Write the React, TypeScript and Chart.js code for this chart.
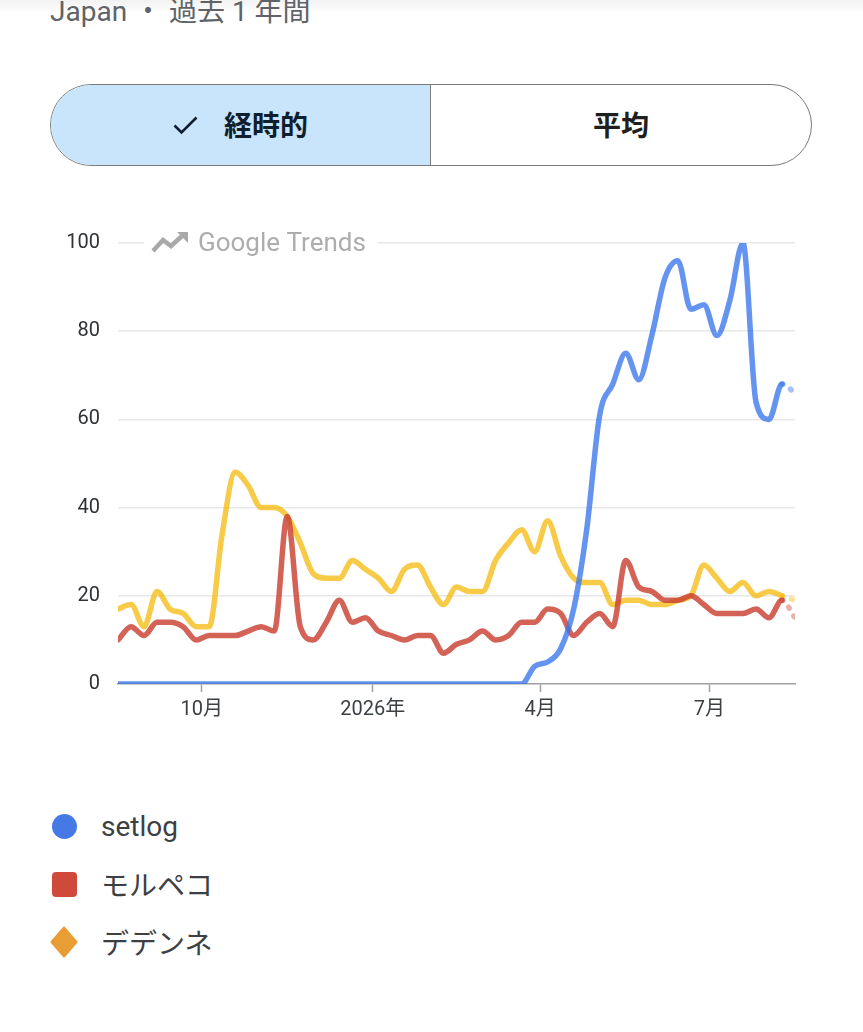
import React, { useEffect, useRef } from "react";
import { Chart, registerables } from "chart.js";

Chart.register(...registerables);

// ---- data ----
const weekStarts = [
  "2025-08-17", "2025-08-24", "2025-08-31", "2025-09-07", "2025-09-14", "2025-09-21", "2025-09-28",
  "2025-10-05", "2025-10-12", "2025-10-19", "2025-10-26", "2025-11-02", "2025-11-09", "2025-11-16",
  "2025-11-23", "2025-11-30", "2025-12-07", "2025-12-14", "2025-12-21", "2025-12-28", "2026-01-04",
  "2026-01-11", "2026-01-18", "2026-01-25", "2026-02-01", "2026-02-08", "2026-02-15", "2026-02-22",
  "2026-03-01", "2026-03-08", "2026-03-15", "2026-03-22", "2026-03-29", "2026-04-05", "2026-04-12",
  "2026-04-19", "2026-04-26", "2026-05-03", "2026-05-10", "2026-05-17", "2026-05-24", "2026-05-31",
  "2026-06-07", "2026-06-14", "2026-06-21", "2026-06-28", "2026-07-05", "2026-07-12", "2026-07-19",
  "2026-07-26", "2026-08-02", "2026-08-09", "2026-08-16",
];

const setlogValues = [
  0, 0, 0, 0, 0, 0, 0, 0, 0, 0,
  0, 0, 0, 0, 0, 0, 0, 0, 0, 0,
  0, 0, 0, 0, 0, 0, 0, 0, 0, 0,
  0, 0, 4, 5, 8, 17, 35, 61, 68, 75,
  69, 79, 92, 96, 85, 86, 79, 87, 100, 64,
  60, 68, 66,
];

const morpekoValues = [
  10, 13, 11, 14, 14, 13, 10, 11, 11, 11,
  12, 13, 12, 38, 13, 10, 14, 19, 14, 15,
  12, 11, 10, 11, 11, 7, 9, 10, 12, 10,
  11, 14, 14, 17, 16, 11, 14, 16, 13, 28,
  22, 21, 19, 19, 20, 18, 16, 16, 16, 17,
  15, 19, 15,
];

const dedenneValues = [
  17, 18, 13, 21, 17, 16, 13, 13, 34, 48,
  45, 40, 40, 38, 32, 25, 24, 24, 28, 26,
  24, 21, 26, 27, 22, 18, 22, 21, 21, 28,
  32, 35, 30, 37, 29, 24, 23, 23, 18, 19,
  19, 18, 18, 19, 20, 27, 24, 21, 23, 20,
  21, 20, 19,
];

const seriesNames = ["setlog", "モルペコ", "デデンネ"];
const tickDates = ["2025-10-01", "2026-01-01", "2026-04-01", "2026-07-01"];
const tickLabels = ["10月", "2026年", "4月", "7月"];
const yMax = 100;
const yStep = 20;

// ---- helpers ----
const DAY = 86400000;
const origin = Date.parse(weekStarts[0] + "T00:00:00Z");
const toDay = (s: string) => Math.round((Date.parse(s + "T00:00:00Z") - origin) / DAY);

const lineColors = ["rgba(56,118,235,0.78)", "rgba(200,60,45,0.8)", "rgba(244,183,0,0.72)"];
const fadedColors = ["rgba(56,118,235,0.45)", "rgba(200,60,45,0.4)", "rgba(244,183,0,0.4)"];
const legendColors = ["#4479e6", "#cf4a3b", "#e89d35"];

const FONT = "Roboto, 'Noto Sans CJK JP', sans-serif";

const watermark = {
  id: "gtWatermark",
  beforeDatasetsDraw(chart: any) {
    const { ctx, chartArea } = chart;
    const l = chartArea.left;
    const t = chartArea.top;
    ctx.save();
    ctx.fillStyle = "#ffffff";
    ctx.fillRect(l + 26, t - 8, 234, 16);
    // trending icon
    ctx.strokeStyle = "#a9a9a9";
    ctx.fillStyle = "#a9a9a9";
    ctx.lineWidth = 4.5;
    ctx.lineJoin = "miter";
    ctx.lineCap = "butt";
    ctx.beginPath();
    ctx.moveTo(l + 35, t + 8);
    ctx.lineTo(l + 45, t - 3);
    ctx.lineTo(l + 53, t + 3);
    ctx.lineTo(l + 64, t - 7);
    ctx.stroke();
    ctx.beginPath();
    ctx.moveTo(l + 59, t - 11);
    ctx.lineTo(l + 70, t - 11);
    ctx.lineTo(l + 70, t);
    ctx.closePath();
    ctx.fill();
    // text
    ctx.fillStyle = "#adadad";
    ctx.font = "26px " + FONT;
    ctx.textBaseline = "middle";
    ctx.textAlign = "left";
    ctx.fillText("Google Trends", l + 80, t + 1);
    ctx.restore();
  },
};

export default function App() {
  const canvasRef = useRef<HTMLCanvasElement>(null);

  useEffect(() => {
    const valuesList = [setlogValues, morpekoValues, dedenneValues];
    const lastIdx = weekStarts.length - 1;
    const datasets = valuesList.map((vals, k) => ({
      label: seriesNames[k],
      data: weekStarts.map((d, i) => ({ x: toDay(d), y: vals[i] })),
      borderColor: lineColors[k],
      borderWidth: 5.5,
      pointRadius: 0,
      pointHoverRadius: 0,
      cubicInterpolationMode: "monotone" as const,
      borderCapStyle: "round" as const,
      borderJoinStyle: "round" as const,
      fill: false,
      segment: {
        borderColor: (c: any) => (c.p1DataIndex === lastIdx ? fadedColors[k] : undefined),
        borderDash: (c: any) => (c.p1DataIndex === lastIdx ? [1, 9] : undefined),
      },
    }));

    const chart = new Chart(canvasRef.current!, {
      type: "line",
      data: { datasets },
      options: {
        animation: false,
        responsive: false,
        events: [],
        layout: { padding: { top: 0, right: 68, bottom: 0, left: 0 } },
        plugins: { legend: { display: false }, tooltip: { enabled: false } },
        scales: {
          x: {
            type: "linear",
            min: 0,
            max: toDay(weekStarts[lastIdx]),
            afterBuildTicks: (scale: any) => {
              scale.ticks = tickDates.map((d) => ({ value: toDay(d) }));
            },
            afterFit: (scale: any) => {
              scale.height = 46;
            },
            ticks: {
              autoSkip: false,
              maxRotation: 0,
              padding: 6,
              color: "#3c4043",
              font: { family: FONT, size: 20 },
              callback: (_v: any, i: number) => tickLabels[i],
            },
            grid: {
              drawOnChartArea: false,
              drawTicks: true,
              tickLength: 8,
              tickWidth: 1.5,
              tickColor: "#a0a0a0",
            },
            border: { display: true, color: "#a0a0a0", width: 1.5 },
          },
          y: {
            type: "linear",
            min: 0,
            max: yMax,
            afterFit: (scale: any) => {
              scale.width = 118;
            },
            ticks: {
              stepSize: yStep,
              padding: 18,
              color: "#2f3235",
              font: { family: FONT, size: 20 },
            },
            grid: {
              drawTicks: false,
              lineWidth: 1.5,
              color: (c: any) => (c.tick && c.tick.value === 0 ? "rgba(0,0,0,0)" : "#e8e8e8"),
            },
            border: { display: false },
          },
        },
      },
      plugins: [watermark],
    } as any);
    return () => chart.destroy();
  }, []);

  const legendTops = [826, 884, 942];

  return (
    <div
      style={{
        position: "absolute",
        left: 0,
        top: 0,
        width: 863,
        height: 1032,
        background: "#ffffff",
        overflow: "hidden",
        fontFamily: FONT,
      }}
    >
      <div
        style={{
          position: "absolute",
          left: 0,
          top: 0,
          width: 863,
          height: 14,
          background: "linear-gradient(rgba(0,0,0,0.05), rgba(0,0,0,0))",
        }}
      />
      <div
        style={{
          position: "absolute",
          left: 50,
          top: -2,
          fontSize: 28,
          lineHeight: "28px",
          color: "#5f6368",
          whiteSpace: "pre",
        }}
      >
        Japan ・ 過去 1 年間
      </div>

      <div
        style={{
          position: "absolute",
          left: 50,
          top: 84,
          width: 762,
          height: 82,
          boxSizing: "border-box",
          border: "1.5px solid #7a7a7a",
          borderRadius: 41,
          overflow: "hidden",
          display: "flex",
        }}
      >
        <div
          style={{
            width: 380,
            boxSizing: "border-box",
            background: "#c9e5fb",
            borderRight: "1.5px solid #7a7a7a",
            display: "flex",
            alignItems: "center",
            justifyContent: "center",
            gap: 26,
          }}
        >
          <svg width="25" height="19" viewBox="0 0 25 19">
            <polyline points="1.5,9.5 8.5,16.5 23.5,1.5" fill="none" stroke="#0f1f2e" strokeWidth="2.6" />
          </svg>
          <span style={{ fontSize: 28, fontWeight: 700, color: "#0f1f2e", marginTop: -2 }}>経時的</span>
        </div>
        <div style={{ flex: 1, display: "flex", alignItems: "center", justifyContent: "center" }}>
          <span style={{ fontSize: 28, fontWeight: 700, color: "#1f1f1f", marginTop: -2 }}>平均</span>
        </div>
      </div>

      <div style={{ position: "absolute", left: 0, top: 213, width: 863, height: 517 }}>
        <canvas ref={canvasRef} width={863} height={517} />
      </div>

      {seriesNames.map((name, k) => (
        <div
          key={name}
          style={{
            position: "absolute",
            left: 50,
            top: legendTops[k] - 20,
            height: 40,
            display: "flex",
            alignItems: "center",
          }}
        >
          <div style={{ width: 28, height: 32, display: "flex", alignItems: "center", justifyContent: "center" }}>
            {k === 0 && (
              <div style={{ width: 25, height: 25, borderRadius: "50%", background: legendColors[0] }} />
            )}
            {k === 1 && (
              <div style={{ width: 25, height: 25, borderRadius: 4, background: legendColors[1] }} />
            )}
            {k === 2 && (
              <svg width="28" height="32" viewBox="0 0 28 32">
                <polygon points="14,1.5 26.5,16 14,30.5 1.5,16" fill={legendColors[2]} strokeLinejoin="round" stroke={legendColors[2]} strokeWidth="2" />
              </svg>
            )}
          </div>
          <span style={{ marginLeft: 23, fontSize: 28, color: "#3c4043" }}>{name}</span>
        </div>
      ))}
    </div>
  );
}
